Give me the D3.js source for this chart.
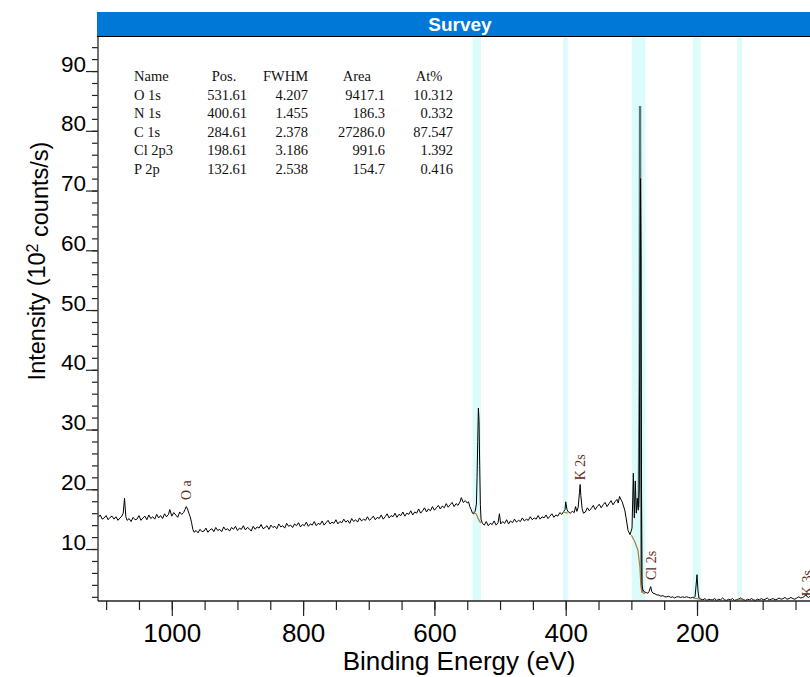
<!DOCTYPE html>
<html>
<head>
<meta charset="utf-8">
<script src="https://cdn.jsdelivr.net/npm/d3@7"></script>
<style>
  body { margin: 0; background: #fff; }
  svg { display: block; font-family: "Liberation Sans", Arial, sans-serif; }
  .tbl { font-family: "Liberation Serif", "Times New Roman", serif; font-size: 14.5px; fill: #111; }
  .plabel { font-family: "Liberation Serif", "Times New Roman", serif; font-size: 14px; fill: #5e2c20; }
</style>
</head>
<body>
<svg width="810" height="677"></svg>
<script>
// survey spectrum, [binding energy (eV), intensity (10^2 counts/s)]
var spectrum = [
  [1112,15.3],[1109,15.7],[1106,15.0],[1103,15.2],[1100,15.6],[1097,14.9],[1094,15.3],[1091,15.5],
  [1088,15.0],[1085,15.4],[1082,14.8],[1079,15.2],[1076,15.5],[1074,16.0],[1072,18.5],[1070,15.4],
  [1068,14.8],[1065,15.1],[1062,14.6],[1059,15.3],[1056,14.9],[1053,15.0],[1050,15.6],[1047,14.8],
  [1044,15.2],[1041,15.5],[1038,14.9],[1035,15.7],[1032,15.1],[1029,15.4],[1026,15.0],[1023,15.8],
  [1020,15.2],[1017,15.6],[1014,15.1],[1011,15.9],[1008,15.4],[1005,15.8],[1003,16.6],[1000,15.5],
  [997,16.1],[994,15.7],[991,15.3],[988,16.2],[985,15.8],[982,16.1],[980,16.6],[978,17.1],
  [976,16.7],[974,16.0],[972,15.4],[970,14.5],[968,13.3],[966,12.8],[963,13.1],[960,12.7],
  [957,13.3],[954,12.9],[951,13.0],[948,13.5],[945,12.8],[942,13.2],[939,13.4],[936,12.9],
  [933,13.6],[930,13.1],[927,13.3],[924,12.9],[921,13.7],[918,13.2],[915,13.4],[912,13.0],
  [909,13.6],[906,13.3],[903,13.8],[900,13.1],[897,13.5],[894,13.3],[891,13.9],[888,13.2],
  [885,13.6],[882,13.4],[879,13.0],[876,13.8],[873,13.3],[870,13.7],[867,13.5],[864,14.1],
  [861,13.4],[858,13.6],[855,13.9],[852,13.3],[849,14.0],[846,13.6],[843,13.8],[840,13.4],
  [837,14.2],[834,13.7],[831,13.9],[828,13.5],[825,14.3],[822,13.8],[819,14.0],[816,13.6],
  [813,14.2],[810,13.9],[807,14.4],[804,13.7],[801,14.1],[798,13.9],[795,14.5],[792,13.8],
  [789,14.2],[786,14.0],[783,14.6],[780,13.9],[777,14.3],[774,14.1],[771,14.7],[768,14.0],
  [765,14.4],[762,14.8],[759,14.2],[756,14.5],[753,14.3],[750,14.9],[747,14.2],[744,14.6],
  [741,14.4],[738,15.0],[735,14.5],[732,14.8],[729,14.3],[726,15.1],[723,14.6],[720,14.9],
  [717,14.5],[714,15.2],[711,14.7],[708,15.0],[705,14.8],[702,15.4],[699,14.8],[696,15.1],
  [693,15.5],[690,14.9],[687,15.3],[684,15.1],[681,15.7],[678,15.0],[675,15.4],[672,15.9],
  [669,15.2],[666,15.6],[663,15.4],[660,16.0],[657,15.3],[654,15.8],[651,15.6],[648,16.2],
  [645,15.5],[642,16.0],[639,15.8],[636,16.4],[633,15.7],[630,16.2],[627,16.0],[624,16.7],
  [621,16.0],[618,16.4],[615,16.9],[612,16.2],[609,16.7],[606,16.4],[603,17.1],[600,16.5],
  [597,16.9],[594,17.3],[591,16.7],[588,17.2],[585,16.9],[582,17.6],[579,17.0],[576,17.4],
  [573,17.8],[570,17.1],[567,17.6],[564,17.3],[561,17.9],[559,18.6],[556,17.8],[553,18.1],
  [550,17.7],[548,17.9],[546,17.1],[544,16.6],[542,16.0],[540,15.9],[538,16.3],[536,17.5],
  [535,22.0],[534,28.0],[533,33.6],[532,31.5],[531,24.0],[530,17.5],[529,15.0],[527,14.3],
  [524,14.0],[521,14.6],[518,13.9],[515,14.3],[512,14.1],[509,14.7],[506,14.0],[503,14.4],
  [501,15.9],[499,14.2],[496,14.6],[493,14.3],[490,14.9],[487,14.2],[484,14.7],[481,14.4],
  [478,15.0],[475,14.5],[472,14.8],[469,14.6],[466,15.2],[463,14.7],[460,15.0],[457,14.8],
  [454,15.4],[451,14.9],[448,15.2],[445,15.0],[442,15.6],[439,15.0],[436,15.4],[433,15.2],
  [430,15.7],[427,15.1],[424,15.5],[421,15.9],[418,15.3],[415,15.7],[412,15.5],[409,16.1],
  [406,15.8],[403,16.3],[401,16.6],[400,17.9],[398,16.6],[396,16.2],[393,16.0],[390,16.3],
  [387,16.1],[385,17.1],[383,16.3],[381,17.0],[379,19.5],[378,20.8],[377,19.0],[375,16.8],
  [373,16.0],[370,16.2],[367,16.9],[364,16.4],[361,16.8],[358,17.3],[355,16.6],[352,17.1],
  [349,17.5],[346,16.9],[343,17.4],[340,17.8],[337,17.1],[334,17.6],[331,18.1],[328,17.4],
  [325,17.9],[322,18.3],[320,17.7],[318,18.8],[316,18.3],[314,17.9],[312,17.2],[310,16.5],
  [308,15.2],[305,13.1],[302,12.4],[299,13.5],[297,22.7],[295.5,15.2],[294,21.4],[292.5,16.0],
  [291,18.5],[289.5,16.5],[288,20.0],[287,45.0],[286,72.0],[285.3,60.0],[284.6,20.0],[283.8,4.0],
  [282.5,3.2],[280,2.8],[277,2.7],[275,2.6],[273,2.9],[271.5,3.4],[270.5,3.7],[269,2.9],
  [267,2.6],[264,2.5],[261,2.3],[258,2.3],[255,2.1],[252,2.2],[249,2.0],[246,2.0],
  [243,2.1],[240,1.9],[237,2.0],[234,1.8],[231,2.0],[228,2.0],[225,1.9],[222,2.0],
  [219,1.9],[216,2.0],[213,1.9],[210,1.8],[207,1.9],[204,1.9],[203,2.0],[201.5,3.8],
  [200,5.7],[198.5,3.0],[197,1.8],[194,1.6],[191,1.5],[188,1.7],[185,1.4],[182,1.6],
  [179,1.5],[176,1.5],[173,1.7],[170,1.4],[167,1.6],[164,1.5],[161,1.8],[158,1.5],
  [155,1.4],[152,1.6],[149,1.5],[146,1.7],[143,1.4],[140,1.5],[137,1.6],[134,1.8],
  [132,1.7],[129,1.5],[126,1.4],[123,1.6],[120,1.5],[117,1.7],[114,1.5],[111,1.4],
  [108,1.6],[105,1.5],[102,1.7],[99,1.5],[96,1.6],[93,1.8],[90,1.5],[87,1.6],
  [84,1.7],[81,1.5],[78,1.6],[75,1.8],[72,1.6],[69,1.7],[66,1.9],[63,1.6],
  [60,1.7],[57,1.9],[54,1.7],[51,1.6],[48,1.8],[45,2.0],[42,1.8],[39,1.9],
  [36,2.1],[34,2.4],[32,2.0],[30,1.9],[28,2.1]
];

// C 1s fit envelope (grey)
var envelopeC1s = [[289,17],[287.6,40],[287,84],[286.5,84],[285.8,40],[284.8,5],[283.5,2.8]];

// quantification regions [start, end] eV and their backgrounds
var regionNames = ["O 1s", "N 1s", "C 1s", "Cl 2p3", "P 2p"];
var regionRanges = [[542, 529], [404, 397], [299.5, 278.5], [206.5, 194.5], [138.5, 131.5]];
var regionBackgrounds = [
  [[541,16.2],[536,15.8],[533,15.0],[531,14.6],[528.5,14.4]],
  [[404,16.2],[397,16.0]],
  [[300,12.3],[295,11.3],[290,9.8],[287,7.0],[285.5,4.0],[284,2.8],[279,2.5]],
  [[206,1.8],[195,1.6]],
  [[138.5,1.6],[131.5,1.6]]
];

// quantification table
var tblHeader = ["Name", "Pos.", "FWHM", "Area", "At%"];
var tblPos = ["531.61", "400.61", "284.61", "198.61", "132.61"];
var tblFwhm = ["4.207", "1.455", "2.378", "3.186", "2.538"];
var tblArea = ["9417.1", "186.3", "27286.0", "991.6", "154.7"];
var tblAt = ["10.312", "0.332", "87.547", "1.392", "0.416"];

// peak labels
var labelText = ["O a", "K 2s", "Cl 2s", "K 3s"];
var labelBE = [978, 378, 270.5, 33];
var labelAt = [18.2, 21.5, 4.8, 2.1];

var xMajor = [1000, 800, 600, 400, 200];
var yMajor = [10, 20, 30, 40, 50, 60, 70, 80, 90];

var svg = d3.select("svg"),
    pL = 98, pR = 810, pT = 37, pB = 601;

var x = d3.scaleLinear().domain([1112.4, 27.9]).range([pL, pR]),
    y = d3.scaleLinear().domain([1.3, 95.7]).range([pB, pT]);

svg.append("rect").attr("width", 810).attr("height", 677).attr("fill", "#fff");

svg.append("clipPath").attr("id", "plot")
  .append("rect").attr("x", pL).attr("y", pT).attr("width", pR - pL).attr("height", pB - pT);

var plot = svg.append("g").attr("clip-path", "url(#plot)");

// region bands
plot.selectAll(".band").data(regionRanges).enter().append("rect")
    .attr("class", "band")
    .attr("x", function(d) { return x(d[0]); })
    .attr("width", function(d) { return x(d[1]) - x(d[0]); })
    .attr("y", pT).attr("height", pB - pT)
    .attr("fill", "#dcfcfc");

var line = d3.line()
    .x(function(d) { return x(d[0]); })
    .y(function(d) { return y(d[1]); });

plot.append("path").attr("d", line(envelopeC1s))
    .attr("fill", "none").attr("stroke", "#607476").attr("stroke-width", 2);

plot.append("path").attr("d", line(spectrum))
    .attr("fill", "none").attr("stroke", "#000").attr("stroke-width", 1)
    .attr("stroke-linejoin", "round");

plot.selectAll(".bg").data(regionBackgrounds).enter().append("path")
    .attr("class", "bg")
    .attr("d", function(d) { return line(d); })
    .attr("fill", "none").attr("stroke", "#b07a3a").attr("stroke-width", 1.2);

// peak labels
plot.selectAll(".plabel").data(labelText).enter().append("text")
    .attr("class", "plabel")
    .attr("transform", function(d, i) { return "translate(" + x(labelBE[i]) + "," + y(labelAt[i]) + ") rotate(-90)"; })
    .attr("dy", "0.35em")
    .text(function(d) { return d; });

// title bar
svg.append("rect").attr("x", pL - 1).attr("y", 12).attr("width", pR - pL + 1).attr("height", 24)
    .attr("fill", "#0078d7");
svg.append("line").attr("x1", pL - 1).attr("x2", pR).attr("y1", 36.5).attr("y2", 36.5)
    .attr("stroke", "#000").attr("stroke-width", 1.2);
svg.append("text").attr("x", 460).attr("y", 31)
    .attr("text-anchor", "middle").attr("fill", "#fff")
    .style("font-size", "19px").style("font-weight", "bold")
    .text("Survey");

// axes
var gx = svg.append("g").attr("transform", "translate(0," + pB + ")");
gx.append("g").call(d3.axisBottom(x).tickValues(d3.range(50, 1101, 50)).tickSize(9).tickFormat(""));
gx.append("g").attr("class", "xmaj")
  .call(d3.axisBottom(x).tickValues(xMajor).tickSize(15).tickPadding(8).tickFormat(d3.format("d")));

var gy = svg.append("g").attr("transform", "translate(" + pL + ",0)");
gy.append("g").call(d3.axisLeft(y).tickValues(d3.range(2, 96, 2)).tickSize(6).tickFormat(""));
gy.append("g").attr("class", "ymaj")
  .call(d3.axisLeft(y).tickValues(yMajor).tickSize(12).tickPadding(0).tickFormat(d3.format("d")))
  .selectAll("text").attr("dy", "0");

svg.selectAll(".domain").remove();
svg.selectAll(".tick line").attr("stroke", "#222").attr("stroke-width", 1.2);
svg.selectAll(".tick text").attr("fill", "#000")
    .style("font-family", "'Liberation Sans', Arial, sans-serif");
svg.selectAll(".xmaj .tick text").style("font-size", "26px");
svg.selectAll(".ymaj .tick text").style("font-size", "22.5px");

svg.append("line").attr("x1", pL).attr("x2", pL).attr("y1", pT).attr("y2", pB)
    .attr("stroke", "#444").attr("stroke-width", 1.5);
svg.append("line").attr("x1", pL).attr("x2", pR).attr("y1", pB).attr("y2", pB)
    .attr("stroke", "#222").attr("stroke-width", 1.5);

svg.append("text").attr("x", 459).attr("y", 670)
    .attr("text-anchor", "middle").style("font-size", "26px")
    .text("Binding Energy (eV)");

var yt = svg.append("text")
    .attr("transform", "translate(45,261) rotate(-90)")
    .attr("text-anchor", "middle").style("font-size", "23.5px");
yt.append("tspan").text("Intensity (10");
yt.append("tspan").attr("dy", "-0.45em").style("font-size", "16px").text("2");
yt.append("tspan").attr("dy", "0.45em").text(" counts/s)");

// table
var cols = [
  {vals: regionNames, x: 134, anchor: "start"},
  {vals: tblPos, x: 247, anchor: "end"},
  {vals: tblFwhm, x: 308, anchor: "end"},
  {vals: tblArea, x: 385, anchor: "end"},
  {vals: tblAt, x: 453, anchor: "end"}
];
var headX = [134, 211.7, 263, 342.7, 415.7];
var tbl = svg.append("g").attr("class", "tbl");
tbl.selectAll(".hd").data(tblHeader).enter().append("text")
    .attr("x", function(d, i) { return headX[i]; }).attr("y", 81)
    .text(function(d) { return d; });
cols.forEach(function(c) {
  tbl.selectAll(null).data(c.vals).enter().append("text")
      .attr("x", c.x).attr("y", function(d, i) { return 100 + i * 18.4; })
      .attr("text-anchor", c.anchor)
      .text(function(d) { return d; });
});
</script>
</body>
</html>
